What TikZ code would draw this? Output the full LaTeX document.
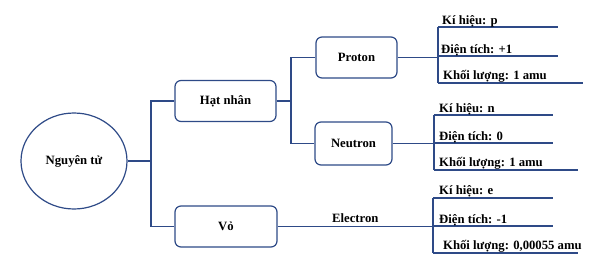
\documentclass[tikz,border=0pt]{standalone}
\usepackage{fontspec}
\setmainfont{Liberation Serif}[BoldFont={Liberation Serif Bold}]
\usetikzlibrary{positioning,shapes.geometric}
\definecolor{edge}{HTML}{2E4A87}

\begin{document}
\begin{tikzpicture}[x=1pt,y=-1pt,every node/.style={font=\fontsize{12.7}{14}\selectfont\rmfamily\bfseries},
    link/.style={draw=edge,line width=1.2pt},
    part/.style={draw=edge,line width=1.2pt,rounded corners=6pt,fill=white},
    leaf/.style={anchor=base west,inner sep=0pt}]
    \useasboundingbox (0,0) rectangle (608,273);
    % main nodes
    \node[ellipse,draw=edge,line width=1.2pt,minimum width=106pt,minimum height=96pt] (atom) at (74,161) {Nguyên tử};
    \node[part,minimum width=101pt,minimum height=41pt] (nucleus) at (225.5,101) {Hạt nhân};
    \node[part,minimum width=102pt,minimum height=41pt] (shell) at (226,226.5) {Vỏ};
    \node[part,minimum width=81pt,minimum height=41pt] (proton) at (356.5,57.5) {Proton};
    \node[part,minimum width=77pt,minimum height=43pt] (neutron) at (353.5,143.5) {Neutron};
    % branch points
    \coordinate (j1) at (151,161);
    \coordinate (j2) at (291,101);
    \coordinate (pt) at (438,27);  \coordinate (pb) at (438,83);
    \coordinate (nt) at (434,115); \coordinate (nb) at (434,170);
    \coordinate (et) at (433,198); \coordinate (eb) at (433,253);
    \draw[link] (atom.east) -- (j1) |- (nucleus.west);
    \draw[link] (j1) |- (shell.west);
    \draw[link] (nucleus.east) -- (j2) |- (proton.west);
    \draw[link] (j2) |- (neutron.west);
    \draw[link] (proton.east) -- (proton.east -| pt);
    \draw[link] (neutron.east) -- (neutron.east -| nt);
    \draw[link] (shell.east) -- node[above=0pt] (electron) {Electron} (shell.east -| et);
    % proton
    \draw[link] (pt) -- (pb);
    \draw[link] (pt) -- ++(120,0);
    \draw[link] (438,56) -- ++(120,0);
    \draw[link] (pb) -- ++(145,0);
    \node[leaf] (psym) at (442,24) {Kí hiệu: p};
    \node[leaf] (pchg) at (441,53) {Điện tích: +1};
    \node[leaf] (pmass) at (443,79) {Khối lượng: 1 amu};
    % neutron
    \draw[link] (nt) -- (nb);
    \draw[link] (nt) -- ++(119,0);
    \draw[link] (434,143) -- ++(119,0);
    \draw[link] (nb) -- ++(144,0);
    \node[leaf] (nsym) at (439,112) {Kí hiệu: n};
    \node[leaf] (nchg) at (439,140) {Điện tích: 0};
    \node[leaf] (nmass) at (439,166) {Khối lượng: 1 amu};
    % electron
    \draw[link] (et) -- (eb);
    \draw[link] (et) -- ++(120,0);
    \draw[link] (433,226) -- ++(120,0);
    \draw[link] (eb) -- ++(145,0);
    \node[leaf] (esym) at (439,194) {Kí hiệu: e};
    \node[leaf] (echg) at (439,223) {Điện tích: -1};
    \node[leaf] (emass) at (443,249) {Khối lượng: 0,00055 amu};
\end{tikzpicture}
\end{document}
